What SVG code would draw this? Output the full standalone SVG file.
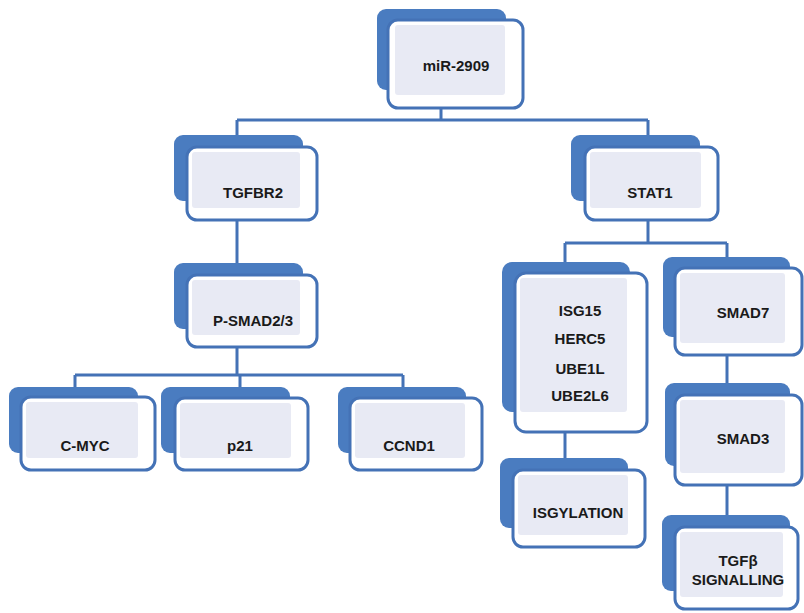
<svg xmlns="http://www.w3.org/2000/svg" width="804" height="613" viewBox="0 0 804 613">
<style>
.back{fill:#4a7cc0;}
.front{fill:#ffffff;stroke:#4472b6;stroke-width:3;}
.inner{fill:#e8eaf4;}
.conn{fill:none;stroke:#4472b6;stroke-width:3;}
text{font-family:"Liberation Sans",Arial,sans-serif;font-weight:bold;font-size:15px;fill:#1a1a1a;text-anchor:middle;dominant-baseline:central;}
</style>
<rect width="804" height="613" fill="#ffffff"/>
<g id="connectors">
<path class="conn" d="M441 108 V120 M237 120 H648 M237 120 V136 M648 120 V136"/>
<path class="conn" d="M237 220 V264"/>
<path class="conn" d="M237 347 V375 M75 375 H403 M75 375 V388 M240 375 V388 M403 375 V388"/>
<path class="conn" d="M648 220 V243 M565 243 H727 M565 243 V262 M727 243 V258"/>
<path class="conn" d="M727 355 V384"/>
<path class="conn" d="M565 432 V459"/>
<path class="conn" d="M727 485 V516"/>
</g>
<g id="n-mir">
<rect class="back" x="377" y="9" width="129" height="81" rx="9"/>
<rect class="front" x="388" y="20" width="135" height="88" rx="10"/>
<rect class="inner" x="395" y="25" width="110" height="70" rx="3"/>
<text x="456" y="65">miR-2909</text>
</g>
<g id="n-tgfbr2">
<rect class="back" x="174" y="135" width="129" height="66" rx="9"/>
<rect class="front" x="187" y="147" width="130" height="73" rx="10"/>
<rect class="inner" x="192" y="152" width="108" height="56" rx="3"/>
<text x="253" y="192">TGFBR2</text>
</g>
<g id="n-stat1">
<rect class="back" x="571" y="135" width="129" height="66" rx="9"/>
<rect class="front" x="585" y="147" width="133" height="73" rx="10"/>
<rect class="inner" x="590" y="152" width="111" height="56" rx="3"/>
<text x="650" y="192">STAT1</text>
</g>
<g id="n-psmad">
<rect class="back" x="174" y="263" width="129" height="66" rx="9"/>
<rect class="front" x="187" y="275" width="130" height="72" rx="10"/>
<rect class="inner" x="192" y="280" width="108" height="55" rx="3"/>
<text x="253" y="320">P-SMAD2/3</text>
</g>
<g id="n-cmyc">
<rect class="back" x="9" y="387" width="129" height="66" rx="9"/>
<rect class="front" x="21" y="397" width="134" height="73" rx="10"/>
<rect class="inner" x="26" y="402" width="112" height="56" rx="3"/>
<text x="85" y="445">C-MYC</text>
</g>
<g id="n-p21">
<rect class="back" x="161" y="387" width="129" height="66" rx="9"/>
<rect class="front" x="175" y="398" width="133" height="72" rx="10"/>
<rect class="inner" x="180" y="403" width="111" height="55" rx="3"/>
<text x="240" y="445">p21</text>
</g>
<g id="n-ccnd1">
<rect class="back" x="338" y="387" width="128" height="66" rx="9"/>
<rect class="front" x="350" y="398" width="132" height="72" rx="10"/>
<rect class="inner" x="355" y="403" width="110" height="55" rx="3"/>
<text x="409" y="445">CCND1</text>
</g>
<g id="n-isg">
<rect class="back" x="502" y="262" width="128" height="150" rx="10"/>
<rect class="front" x="515" y="273" width="132" height="159" rx="11"/>
<rect class="inner" x="520" y="278" width="107" height="134" rx="3"/>
<text x="580" y="310">ISG15</text>
<text x="580" y="338">HERC5</text>
<text x="580" y="368">UBE1L</text>
<text x="580" y="395">UBE2L6</text>
</g>
<g id="n-smad7">
<rect class="back" x="663" y="257" width="127" height="80" rx="9"/>
<rect class="front" x="675" y="268" width="127" height="87" rx="10"/>
<rect class="inner" x="680" y="273" width="105" height="70" rx="3"/>
<text x="743" y="312">SMAD7</text>
</g>
<g id="n-smad3">
<rect class="back" x="665" y="383" width="125" height="83" rx="9"/>
<rect class="front" x="675" y="395" width="127" height="90" rx="10"/>
<rect class="inner" x="680" y="400" width="105" height="73" rx="3"/>
<text x="743" y="438">SMAD3</text>
</g>
<g id="n-isgylation">
<rect class="back" x="500" y="458" width="128" height="70" rx="9"/>
<rect class="front" x="513" y="470" width="132" height="77" rx="10"/>
<rect class="inner" x="518" y="475" width="110" height="60" rx="3"/>
<text x="578" y="512">ISGYLATION</text>
</g>
<g id="n-tgfb">
<rect class="back" x="662" y="515" width="128" height="76" rx="9"/>
<rect class="front" x="675" y="527" width="123" height="82" rx="10"/>
<rect class="inner" x="680" y="532" width="103" height="65" rx="3"/>
<text x="738" y="560">TGFβ</text>
<text x="738" y="579">SIGNALLING</text>
</g>
</svg>
